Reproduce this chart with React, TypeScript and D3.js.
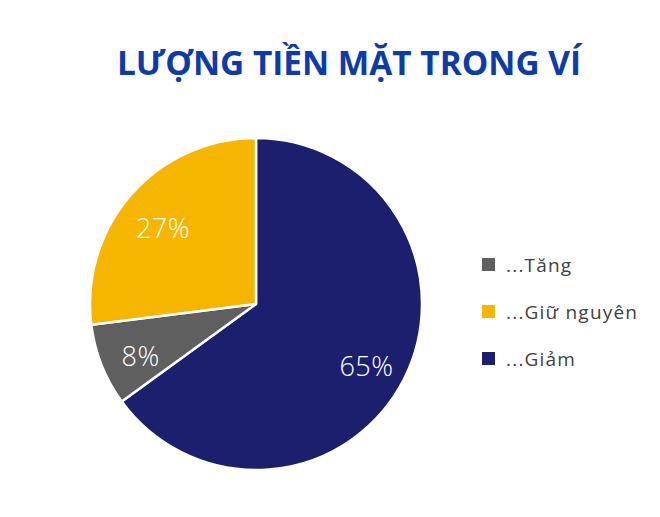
import React from "react";
import * as d3 from "d3";

const categories = ["...Giảm", "...Tăng", "...Giữ nguyên"];
const values = [65, 8, 27];
const colors = ["#1b1f6e", "#5f5f5f", "#f6b600"];
const legendOrder = ["...Tăng", "...Giữ nguyên", "...Giảm"];
const title = "LƯỢNG TIỀN MẶT TRONG VÍ";

export default function App() {
  const W = 660, H = 517;
  const cx = 256, cy = 304, R = 166;
  const pie = d3.pie<number>().sort(null).value((d) => d)(values);
  const arc = d3.arc<d3.PieArcDatum<number>>().innerRadius(0).outerRadius(R);
  const labelArc = d3.arc<d3.PieArcDatum<number>>().innerRadius(124).outerRadius(124);
  const color = d3.scaleOrdinal<string, string>().domain(categories).range(colors);
  const legendY = d3.scalePoint<string>().domain(legendOrder).range([265, 359]);
  return (
    <svg width={W} height={H} style={{ position: "absolute", left: 0, top: 0, background: "#fff" }}>
      <text x={349} y={75} textAnchor="middle" fontFamily="'Open Sans', sans-serif" fontWeight={700} fontSize={33.4} fill="#0d3ca8">
        {title}
      </text>
      <g transform={`translate(${cx},${cy})`}>
        {pie.map((d, i) => (
          <path key={i} d={arc(d) || ""} fill={color(categories[i])} stroke="#fff" strokeWidth={2.5} strokeLinejoin="round" />
        ))}
        {pie.map((d, i) => {
          const [x, y] = labelArc.centroid(d);
          return (
            <text key={"l" + i} x={x} y={y} dy="0.6em" textAnchor="middle" fontFamily="'Open Sans', sans-serif" fontWeight={300} fontSize={27} letterSpacing={0.5} fill="#fff">
              {values[i]}%
            </text>
          );
        })}
      </g>
      {legendOrder.map((c) => (
        <g key={c} transform={`translate(482,${legendY(c)})`}>
          <rect x={0} y={-7} width={13} height={13} fill={color(c)} />
          <text x={24} y={0} dy="0.35em" fontFamily="'Open Sans', sans-serif" fontSize={19} letterSpacing={1.2} fill="#404040">
            {c}
          </text>
        </g>
      ))}
    </svg>
  );
}
